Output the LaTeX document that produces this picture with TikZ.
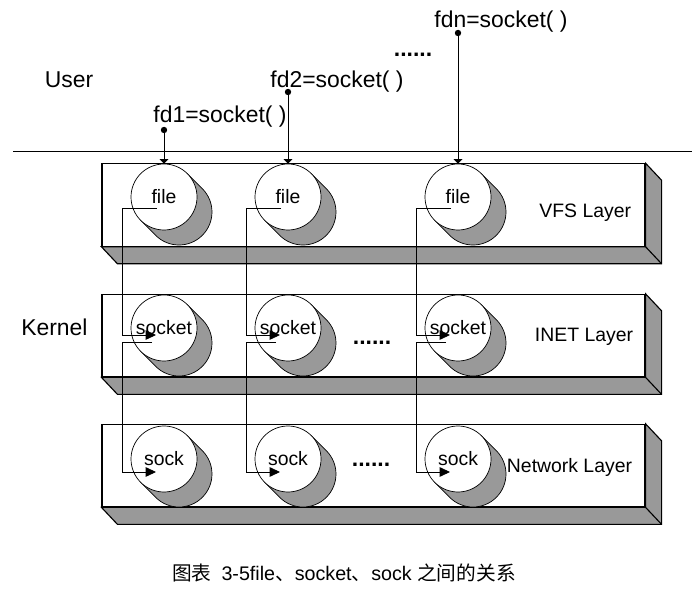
\documentclass[tikz,border=0pt]{standalone}
\usepackage{fontspec}
\setmainfont{Liberation Sans}
\newfontfamily\cjk{Noto Sans CJK SC}
\usetikzlibrary{arrows.meta,positioning}
\definecolor{shadegray}{RGB}{153,153,153}

\begin{document}
\begin{tikzpicture}[x=1cm,y=1cm]
\tikzset{
  bigtext/.style={font=\fontsize{16.3}{19}\selectfont},
  smalltext/.style={font=\fontsize{13.8}{16}\selectfont},
  moredots/.style={font=\bfseries\fontsize{16.3}{19}\selectfont},
  layerbox/.style={draw,fill=white,line width=0.8pt,minimum width=13.575cm,minimum height=2.06cm,inner sep=0pt},
  layerside/.style={fill=shadegray,draw,line width=0.8pt},
  layertext/.style={smalltext,anchor=east},
  cylface/.style={circle,draw,fill=white,line width=0.5pt,minimum size=16.5mm,inner sep=0pt,smalltext},
  cylshadow/.style={fill=shadegray,draw,line width=0.5pt},
  fddot/.style={circle,fill,inner sep=0pt,minimum size=1.6mm},
  fdcall/.style={-{Triangle[length=1.1mm,width=2.2mm]},line width=0.6pt},
  link/.style={-{Triangle[length=2.6mm,width=2.4mm]},line width=0.6pt}
}
\useasboundingbox (0,0) rectangle (17.3,15.1);

% user / kernel boundary
\draw[line width=0.6pt] (0.325,11.325) -- (17.3,11.325);
\node[bigtext] (user) at (1.725,13.1) {User};
\node[bigtext] (kernel) at (1.36,6.925) {Kernel};

% the three layers
\node[layerbox] (vfs) at (9.3375,9.975) {};
\node[layerbox] (inet) at (9.3375,6.71) {};
\node[layerbox] (net) at (9.3375,3.46) {};
\foreach \b in {vfs,inet,net}{
  \filldraw[layerside] (\b.south west) -- ++(0.4,-0.425) -| ([shift={(0.4,-0.425)}]\b.north east)
    -- (\b.north east) |- cycle;
  \draw[line width=0.8pt] (\b.south east) -- ++(0.4,-0.425);
}
\node[layertext] (vfslabel) at (15.9,9.775) {VFS Layer};
\node[layertext] (inetlabel) at (15.95,6.675) {INET Layer};
\node[layertext] (netlabel) at (15.925,3.425) {Network Layer};

% file / socket / sock objects
\foreach \c/\x in {1/4.10,2/7.20,n/11.45}{
  \foreach \k/\y in {file/10.175,socket/6.90,sock/3.625}{
    \filldraw[cylshadow] (\x+0.958,\y+0.208) arc[start angle=45,end angle=-135,radius=0.825]
      -- (\x-0.583,\y-0.583) -- (\x+0.583,\y+0.583) -- cycle;
    \node[cylface] (\k\c) at (\x,\y) {\k};
  }
}
\node[moredots] (moreinet) at (9.3,6.525) {......};
\node[moredots] (morenet) at (9.275,3.475) {......};

% socket() calls
\node[fddot] (dot1) at (4.10,11.85) {};
\node[fddot] (dot2) at (7.20,12.8) {};
\node[fddot] (dotn) at (11.45,14.275) {};
\node[bigtext] (call1) at (5.5,12.175) {fd1=socket( )};
\node[bigtext] (call2) at (8.425,13.05) {fd2=socket( )};
\node[bigtext] (calln) at (12.525,14.55) {fdn=socket( )};
\node[moredots] (morecalls) at (10.325,13.725) {......};
\foreach \c in {1,2,n}
  \draw[fdcall] (dot\c) -- (file\c);

% links between layers
\foreach \c in {1,2,n}{
  \draw[link] ([shift={(-0.175,-0.275)}]file\c.center) -- ++(-0.875,0) |- ([shift={(-0.2,-0.175)}]socket\c.center);
  \draw[link] ([shift={(-0.3,-0.35)}]socket\c.center) -- ++(-0.75,0) |- ([shift={(-0.2,-0.325)}]sock\c.center);
}

\node[font=\fontsize{14}{17}\selectfont] (caption) at (8.6,0.775)
  {{\cjk 图表}\enspace 3-5file{\cjk 、}socket{\cjk 、}sock {\cjk 之间的关系}};
\end{tikzpicture}
\end{document}
